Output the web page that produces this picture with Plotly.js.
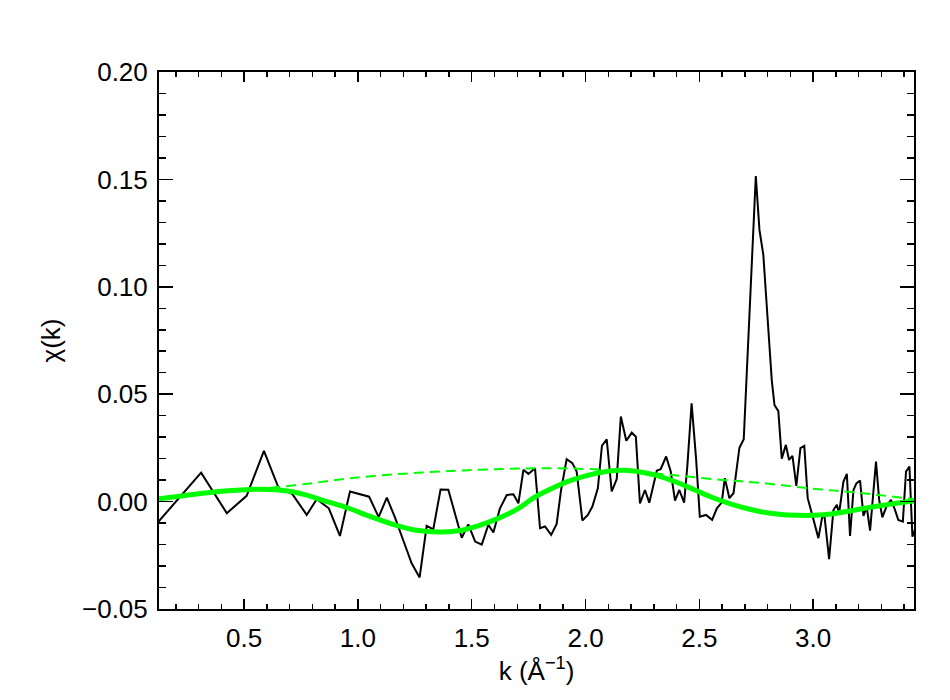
<!DOCTYPE html>
<html>
<head>
<meta charset="utf-8">
<script src="https://cdn.plot.ly/plotly-3.0.1.min.js"></script>
<style>
  body { margin: 0; background: #fff; }
  #plotId { width: 950px; height: 700px; }
</style>
</head>
<body>
<div id="plotId"></div>
<script>
// measured chi(k) (black line)
const kData = [
  0.124, 0.311, 0.424, 0.511, 0.587, 0.652, 0.712, 0.775, 0.819, 0.872,
  0.921, 0.965, 1.049, 1.091, 1.127, 1.163, 1.199, 1.236, 1.271, 1.302,
  1.331, 1.363, 1.397, 1.456, 1.485, 1.515, 1.544, 1.573, 1.595, 1.624,
  1.654, 1.683, 1.705, 1.727, 1.749, 1.778, 1.800, 1.822, 1.849, 1.873,
  1.892, 1.917, 1.942, 1.961, 1.986, 2.010, 2.030, 2.054, 2.072, 2.093,
  2.115, 2.137, 2.155, 2.179, 2.203, 2.221, 2.239, 2.261, 2.280, 2.313,
  2.330, 2.354, 2.374, 2.393, 2.412, 2.433, 2.447, 2.466, 2.486, 2.502,
  2.529, 2.556, 2.577, 2.598, 2.612, 2.632, 2.650, 2.676, 2.695, 2.712,
  2.728, 2.748, 2.764, 2.781, 2.800, 2.818, 2.830, 2.847, 2.862, 2.880,
  2.894, 2.909, 2.926, 2.944, 2.961, 2.976, 2.996, 3.023, 3.040, 3.050,
  3.070, 3.089, 3.104, 3.114, 3.133, 3.148, 3.162, 3.177, 3.190, 3.206,
  3.221, 3.235, 3.250, 3.261, 3.276, 3.290, 3.304, 3.323, 3.342, 3.357,
  3.374, 3.394, 3.408, 3.423, 3.436, 3.447
];
const chiData = [
  -0.0093, 0.0135, -0.0054, 0.0027, 0.0236, 0.0062, 0.0035, -0.0062, 0.0011, -0.0031,
  -0.0160, 0.0047, 0.0023, -0.0072, 0.0019, -0.0075, -0.0180, -0.0287, -0.0353, -0.0113,
  -0.0129, 0.0056, 0.0055, -0.0168, -0.0106, -0.0186, -0.0200, -0.0108, -0.0144, -0.0031,
  0.0031, 0.0034, -0.0008, 0.0148, 0.0129, 0.0155, -0.0124, -0.0116, -0.0155, -0.0104,
  0.0051, 0.0197, 0.0179, 0.0140, -0.0088, -0.0062, -0.0023, 0.0062, 0.0260, 0.0290,
  0.0047, 0.0105, 0.0396, 0.0283, 0.0321, 0.0302, -0.0008, 0.0054, -0.0005, 0.0144,
  0.0151, 0.0210, 0.0142, 0.0005, 0.0054, -0.0005, 0.0163, 0.0457, 0.0194, -0.0070,
  -0.0062, -0.0085, -0.0031, -0.0005, 0.0109, 0.0016, 0.0039, 0.0251, 0.0290, 0.0700,
  0.1100, 0.1516, 0.1265, 0.1149, 0.0850, 0.0567, 0.0450, 0.0421, 0.0200, 0.0264,
  0.0194, 0.0213, 0.0073, 0.0249, 0.0259, 0.0016, -0.0062, -0.0170, -0.0070, -0.0070,
  -0.0268, -0.0039, -0.0015, -0.0054, 0.0093, 0.0129, -0.0160, 0.0054, 0.0085, 0.0098,
  -0.0067, -0.0023, -0.0135, 0.0008, 0.0186, 0.0008, -0.0073, -0.0020, 0.0008, -0.0031,
  -0.0085, -0.0093, 0.0140, 0.0163, -0.0163, -0.0132
];

// fit (thick green)
const fitK = [
  0.126, 0.25, 0.40, 0.57, 0.70, 0.77, 0.85, 0.96, 1.05, 1.16,
  1.25, 1.36, 1.44, 1.52, 1.60, 1.70, 1.78, 1.85, 1.92, 2.00,
  2.09, 2.17, 2.24, 2.31, 2.40, 2.48, 2.56, 2.63, 2.70, 2.77,
  2.85, 2.93, 3.00, 3.08, 3.18, 3.30, 3.443
];
const fitChi = [
  0.0013, 0.0030, 0.0048, 0.0058, 0.0048, 0.0031, 0.0005, -0.0031, -0.0068, -0.0108,
  -0.0132, -0.0142, -0.0136, -0.0115, -0.0085, -0.0035, 0.0023, 0.0060, 0.0093, 0.0120,
  0.0140, 0.0146, 0.0138, 0.0122, 0.0090, 0.0054, 0.0018, -0.0008, -0.0030, -0.0047,
  -0.0059, -0.0064, -0.0064, -0.0058, -0.0040, -0.0018, 0.0003
];

// envelope (dashed green)
const envK = [
  0.126, 0.30, 0.45, 0.60, 0.77, 0.96, 1.20, 1.44, 1.65, 1.80,
  2.00, 2.20, 2.38, 2.60, 2.77, 3.00, 3.20, 3.443
];
const envChi = [
  0.0018, 0.0038, 0.0053, 0.0063, 0.0082, 0.0108, 0.0130, 0.0144, 0.0152, 0.0155,
  0.0152, 0.0140, 0.0124, 0.0101, 0.0087, 0.0060, 0.0041, 0.0011
];

const font = { family: '"Liberation Sans", Arial, Helvetica, sans-serif', size: 26, color: '#000' };

const data = [
  { x: kData, y: chiData, type: 'scatter', mode: 'lines',
    line: { color: '#000', width: 2 }, hoverinfo: 'none' },
  { x: envK, y: envChi, type: 'scatter', mode: 'lines',
    line: { color: '#00ff00', width: 2, dash: '10px,6px', shape: 'spline' }, hoverinfo: 'none' },
  { x: fitK, y: fitChi, type: 'scatter', mode: 'lines',
    line: { color: '#00ff00', width: 5, shape: 'spline' }, hoverinfo: 'none' }
];

const layout = {
  width: 950,
  height: 700,
  margin: { l: 159, r: 36, t: 72, b: 91 },
  paper_bgcolor: '#fff',
  plot_bgcolor: '#fff',
  showlegend: false,
  font: font,
  xaxis: {
    range: [0.126, 3.443],
    tick0: 0, dtick: 0.5, tickformat: '.1f',
    ticks: 'inside', ticklen: 10, tickwidth: 1.5, tickcolor: '#000',
    minor: { dtick: 0.1, ticks: 'inside', ticklen: 5, tickwidth: 1.5, tickcolor: '#000' },
    showline: true, linecolor: '#000', linewidth: 2, mirror: 'ticks',
    showgrid: false, zeroline: false,
    ticklabelstandoff: 5,
    title: { text: 'k (Å<sup>−1</sup>)', font: font, standoff: 0 }
  },
  yaxis: {
    range: [-0.05, 0.20],
    tick0: 0, dtick: 0.05, tickformat: '.2f',
    ticks: 'inside', ticklen: 14, tickwidth: 1.5, tickcolor: '#000',
    minor: { dtick: 0.01, ticks: 'inside', ticklen: 7, tickwidth: 1.5, tickcolor: '#000' },
    showline: true, linecolor: '#000', linewidth: 2, mirror: 'ticks',
    showgrid: false, zeroline: false,
    ticklabelstandoff: 4,
    title: { text: 'χ(k)', font: font, standoff: 14 }
  }
};

Plotly.newPlot('plotId', data, layout, { displayModeBar: false, staticPlot: true });
</script>
</body>
</html>
